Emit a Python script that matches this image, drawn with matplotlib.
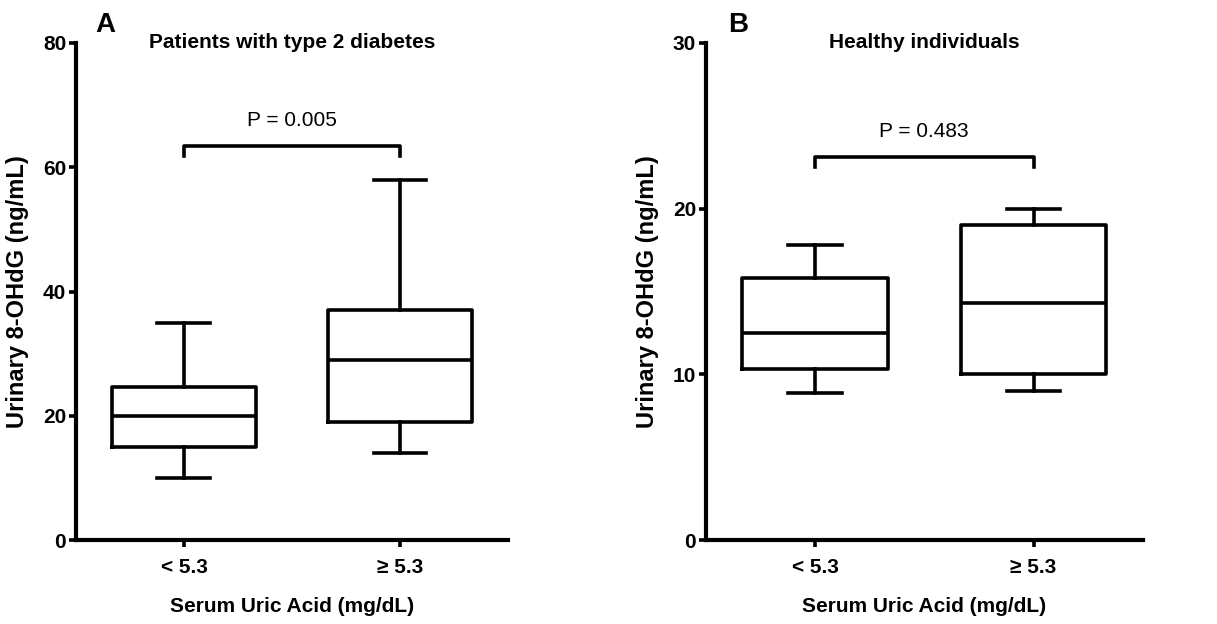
import matplotlib.pyplot as plt

plt.rcParams['font.family'] = ['Liberation Sans', 'DejaVu Sans']

groups = ['< 5.3', '\u2265 5.3']

# panel A: patients with type 2 diabetes
a_low = [10, 15, 20, 24.6, 35]     # whislo, q1, med, q3, whishi
a_high = [14, 19, 29, 37, 58]
a_p = 'P = 0.005'

# panel B: healthy individuals
b_low = [8.9, 10.3, 12.5, 15.8, 17.8]
b_high = [9.0, 10.0, 14.3, 19.0, 20.0]
b_p = 'P = 0.483'

lw = 2.6


def stats(v):
    return dict(whislo=v[0], q1=v[1], med=v[2], q3=v[3], whishi=v[4], fliers=[])


def panel(ax, low, high, ymax, yticks, title, letter, letter_x, ptext, bracket_y, arm):
    line = dict(color='black', linewidth=lw)
    ax.bxp([stats(low), stats(high)], positions=[1, 2], widths=0.667,
           capwidths=0.245, showfliers=False, boxprops=line, whiskerprops=line,
           capprops=line, medianprops=line)
    ax.set_xlim(0.5, 2.5)
    ax.set_ylim(0, ymax)
    ax.set_yticks(yticks)
    ax.set_xticks([1, 2])
    ax.set_xticklabels(groups, fontsize=15, fontweight='bold')
    for lab in ax.get_yticklabels():
        lab.set_fontsize(15)
        lab.set_fontweight('bold')
    ax.spines['top'].set_visible(False)
    ax.spines['right'].set_visible(False)
    for s in ['left', 'bottom']:
        ax.spines[s].set_linewidth(lw + 0.4)
    ax.tick_params(axis='both', width=lw, length=5, pad=2)
    ax.tick_params(axis='x', pad=8)
    ax.set_ylabel('Urinary 8-OHdG (ng/mL)', fontsize=17, fontweight='bold', labelpad=10)
    ax.set_xlabel('Serum Uric Acid (mg/dL)', fontsize=15, fontweight='bold', labelpad=14)
    # title sits level with the top of the y axis
    ax.text(0.5, 1.0, title, transform=ax.transAxes, fontsize=15,
            fontweight='bold', ha='center', va='center')
    ax.text(letter_x, 1.036, letter, transform=ax.transAxes, fontsize=20,
            fontweight='bold', ha='center', va='center')
    ax.plot([1, 1, 2, 2], [bracket_y - arm, bracket_y, bracket_y, bracket_y - arm],
            color='black', linewidth=lw, clip_on=False)
    ax.text(1.5, bracket_y + arm * 2.6, ptext, fontsize=15, ha='center', va='center')


fig = plt.figure(figsize=(12.17, 6.24), dpi=100)
ax1 = fig.add_axes([0.0624, 0.1346, 0.355, 0.7965])
ax2 = fig.add_axes([0.580, 0.1346, 0.359, 0.7965])

panel(ax1, a_low, a_high, 80, [0, 20, 40, 60, 80],
      'Patients with type 2 diabetes', 'A', 0.067, a_p, 63.4, 1.6)
panel(ax2, b_low, b_high, 30, [0, 10, 20, 30],
      'Healthy individuals', 'B', 0.073, b_p, 23.1, 0.6)

fig.savefig('out.png', dpi=100)
